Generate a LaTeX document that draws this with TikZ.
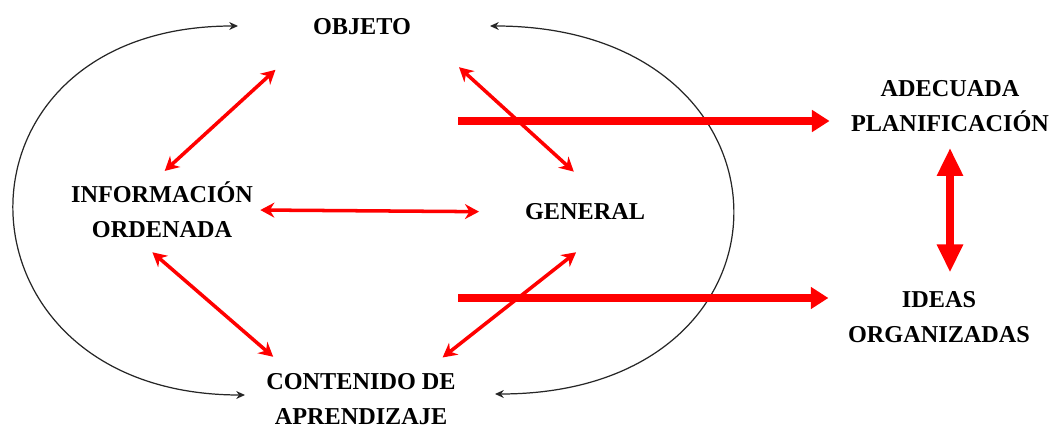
\documentclass[tikz,border=0pt]{standalone}
\usepackage{fontspec}
\setmainfont{Liberation Serif}
\usetikzlibrary{arrows.meta}
\tikzset{
  lbl/.style={font=\bfseries\fontsize{13.8}{20}\selectfont,align=center,inner sep=2pt},
  tarr/.style={red,line width=2pt,{Stealth[length=8pt,width=8.5pt]}-{Stealth[length=8pt,width=8.5pt]}},
  harr/.style={red,line width=4pt,-{Triangle[length=10pt,width=12pt]}},
  varr/.style={red,line width=4pt,{Triangle[length=16pt,width=14pt]}-{Triangle[length=16pt,width=14pt]}},
  ring/.style={black!85,line width=0.7pt,{Stealth[length=5pt,width=4.5pt]}-{Stealth[length=5pt,width=4.5pt]}}
}
\begin{document}
\begin{tikzpicture}
\begin{scope}[x=0.02cm,y=-0.02cm]
\useasboundingbox (0,0) rectangle (1051,428);
\node[lbl] (obj) at (362,27) {OBJETO};
\node[lbl] (info) at (162,210) {INFORMACIÓN\\ORDENADA};
\node[lbl] (gen) at (585,212) {GENERAL};
\node[lbl] (cont) at (361,399) {CONTENIDO DE\\APRENDIZAJE};
\node[lbl] (adec) at (950,106) {ADECUADA\\PLANIFICACIÓN};
\node[lbl] (ideas) at (939,317) {IDEAS\\ORGANIZADAS};
% ciclo
\coordinate (la) at (238,26);
\coordinate (lb) at (245,395);
\coordinate (ra) at (490,26);
\coordinate (rb) at (495,394);
\draw[ring] (la) .. controls +(-303,0) and +(-303,0) .. (lb);
\draw[ring] (ra) .. controls +(320,0) and +(320,0) .. (rb);
% relaciones
\draw[tarr,shorten <=26pt,shorten >=6pt] (obj.south west) -- (info.99);
\draw[tarr,shorten <=34pt,shorten >=24pt] (obj.east) -- (gen.31);
\draw[tarr,shorten <=2pt,shorten >=24pt] (info.east) -- (gen.west);
\draw[tarr,shorten <=9pt,shorten >=11pt] (info.-124) -- (cont.158);
\draw[tarr,shorten <=26pt,shorten >=11pt] (gen.-24) -- (cont.24);
% resultados
\coordinate (p1) at (458,121);
\coordinate (p2) at (458,298);
\draw[harr,shorten >=10pt] (p1) -- (p1 -| adec.west);
\draw[harr,shorten >=9pt] (p2) -- (p2 -| ideas.west);
\draw[varr,shorten <=7pt,shorten >=8.5pt] (adec.south) -- (adec.south |- ideas.north);
\end{scope}
\end{tikzpicture}
\end{document}
